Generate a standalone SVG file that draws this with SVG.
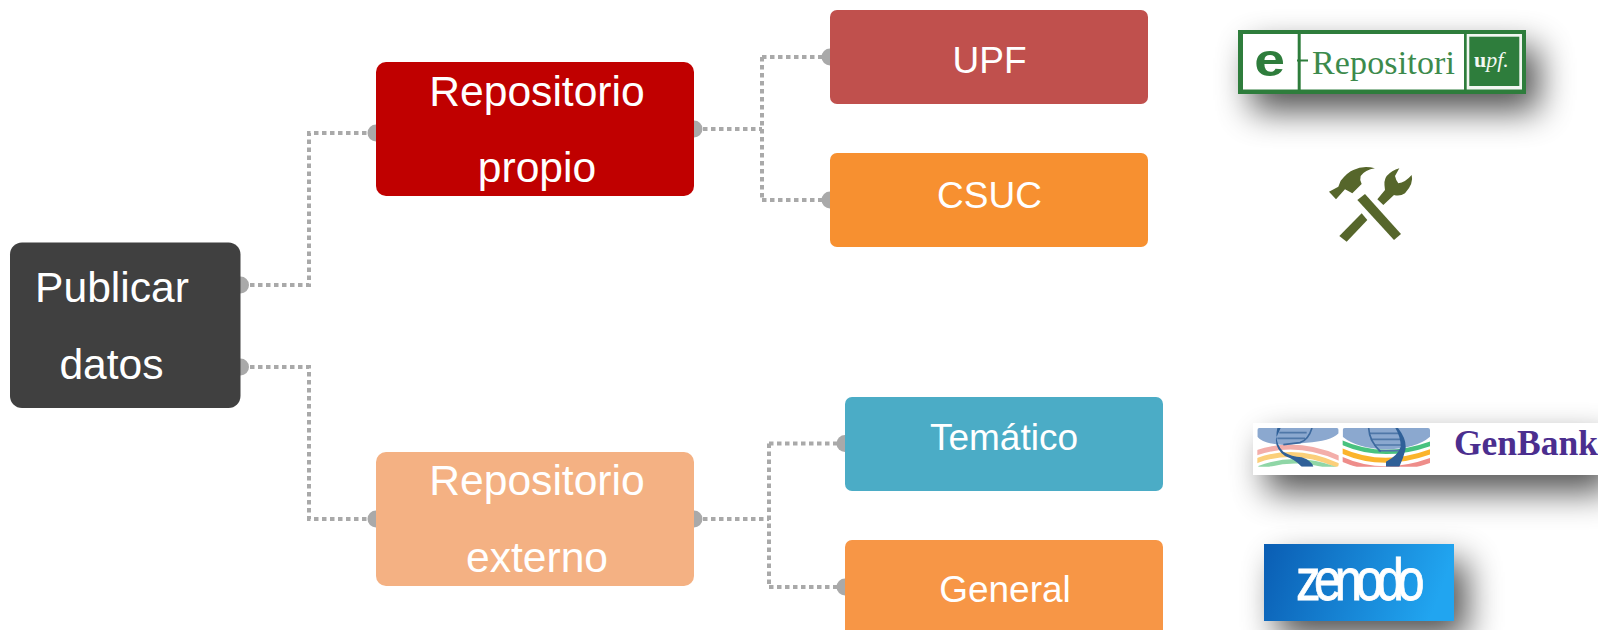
<svg xmlns="http://www.w3.org/2000/svg" width="1598" height="630" viewBox="0 0 1598 630">
<style>
.wire{fill:none;stroke:#a9a9a9;stroke-width:4;stroke-dasharray:4.5 3.5}
.port{fill:#a9a9a9}
.lab{font-family:"Liberation Sans",Arial,sans-serif;fill:#fff;text-anchor:middle}
.big{font-size:42.600px}
.mid{font-size:37px}
.band{fill:none}
</style>
<defs>
<filter id="sh" x="-40%" y="-100%" width="190%" height="400%" color-interpolation-filters="sRGB">
<feGaussianBlur in="SourceAlpha" stdDeviation="17"/>
<feOffset dx="13" dy="17"/>
<feComponentTransfer><feFuncA type="linear" slope="0.68"/></feComponentTransfer>
<feMerge><feMergeNode/><feMergeNode in="SourceGraphic"/></feMerge>
</filter>
<linearGradient id="zg" x1="0" x2="1" y1="0" y2="0.15">
<stop offset="0" stop-color="#0a5db3"/><stop offset="1" stop-color="#21a5f0"/>
</linearGradient>
<clipPath id="gl"><rect x="22" y="24" width="244" height="116" rx="6"/></clipPath>
<clipPath id="gr"><rect x="278" y="24" width="262" height="116" rx="6"/></clipPath>
</defs>
<rect width="1598" height="630" fill="#fff"/>
<g id="connectors">
<path class="wire" d="M250 285H309V133H368"/>
<path class="wire" d="M250 367H309V519H368"/>
<path class="wire" d="M703 129H762M762 57H822M762 57V200M762 200H822"/>
<path class="wire" d="M703 519H769M769 443.500H837M769 443.500V587M769 587H837"/>
<g class="port">
<circle cx="240.500" cy="285" r="8.500"/><circle cx="240.500" cy="367" r="8.500"/>
<circle cx="376" cy="133" r="8.500"/><circle cx="376" cy="519" r="8.500"/>
<circle cx="694" cy="129" r="8.500"/><circle cx="694" cy="519" r="8.500"/>
<circle cx="830" cy="57" r="8.500"/><circle cx="830" cy="200" r="8.500"/>
<circle cx="845" cy="443.500" r="8.500"/><circle cx="845" cy="587" r="8.500"/>
</g>
</g>
<g id="publicar"><rect x="10" y="242.500" width="230.500" height="165.500" rx="12" fill="#404040"/>
<text class="lab big" x="112" y="302">Publicar</text><text class="lab big" x="111.500" y="379">datos</text></g>
<g id="propio"><rect x="376" y="62" width="318" height="134" rx="10" fill="#c00000"/>
<text class="lab big" x="537" y="106">Repositorio</text><text class="lab big" x="537" y="182">propio</text></g>
<g id="externo"><rect x="376" y="452" width="318" height="134" rx="10" fill="#f4b183"/>
<text class="lab big" x="537" y="495">Repositorio</text><text class="lab big" x="537" y="572">externo</text></g>
<g id="upf"><rect x="830" y="10" width="318" height="94" rx="7" fill="#c0504d"/>
<text class="lab mid" x="989.500" y="73">UPF</text></g>
<g id="csuc"><rect x="830" y="153" width="318" height="94" rx="7" fill="#f79030"/>
<text class="lab mid" x="989.500" y="208">CSUC</text></g>
<g id="tematico"><rect x="845" y="397" width="318" height="94" rx="7" fill="#4bacc6"/>
<text class="lab mid" x="1004" y="450">Temático</text></g>
<g id="general"><rect x="845" y="540" width="318" height="100" rx="7" fill="#f79646"/>
<text class="lab mid" x="1005" y="602">General</text></g>
<g id="logo-erepositori">
<rect x="1238" y="30" width="288" height="64" fill="#2e7d3c" filter="url(#sh)"/>
<rect x="1243" y="34" width="54.700" height="55.500" fill="#fff"/>
<rect x="1300.700" y="34" width="163.300" height="55.500" fill="#fff"/>
<rect x="1466.700" y="34" width="55.300" height="55.500" fill="#f2f7f2"/>
<rect x="1469.300" y="36.700" width="50" height="49.300" fill="#2e7d3c"/>
<rect x="1297" y="59.500" width="11" height="2" fill="#2e7d3c"/>
<text transform="translate(1269.500 76) scale(1.2 1)" font-family="'Liberation Sans',Arial,sans-serif" font-size="46" font-weight="bold" fill="#2e7d3c" text-anchor="middle">e</text>
<text x="1312" y="74" font-family="'Liberation Serif','Times New Roman',serif" font-size="34" fill="#3c8a4c" textLength="143">Repositori</text>
<text x="1474" y="67" font-family="'Liberation Serif','Times New Roman',serif" font-size="22" fill="#f2f7f2" font-weight="bold">u<tspan font-style="italic" font-weight="normal">pf.</tspan></text>
</g>
<g id="logo-tools" transform="translate(1320 160) scale(.33333)" fill="#56662b">
<path d="M112 120L135 102L243 222L222 240Z"/>
<path d="M27 95L55 80L62 62Q85 35 100 30Q130 15 165 25Q135 30 122 48Q118 60 125 72L97 100L75 88L48 118Z"/>
<path d="M58 228L125 160L142 180L80 245Z"/>
<path d="M172 118L195 90Q190 60 200 48Q215 32 238 25L225 48Q228 62 235 70Q255 68 275 45Q282 70 255 100Q240 110 222 105L190 135Z"/>
</g>
<g id="logo-genbank">
<rect x="1253" y="423" width="345" height="52" fill="#fff" filter="url(#sh)"/>
<g transform="translate(1250 420) scale(.33333)">
<g clip-path="url(#gl)">
<path d="M22 24H266V40Q240 65 170 68L100 75Q40 72 22 50Z" fill="#8ba8cf"/>
<path class="band" d="M15 100Q140 55 275 118" stroke="#f3aeaa" stroke-width="15"/>
<path class="band" d="M15 124Q140 75 275 142" stroke="#fbcf7a" stroke-width="15"/>
<path class="band" d="M25 145Q140 100 265 150" stroke="#8fd6a6" stroke-width="13"/>
<path d="M88 38H170M82 55H165" stroke="#4f77a8" stroke-width="5" fill="none"/>
<path d="M186 24Q175 60 150 68L100 74" stroke="#3d6a9f" stroke-width="5" fill="none"/>
<path d="M82 24Q72 70 100 95Q125 110 155 112Q185 122 190 140H155Q135 118 105 108Q75 85 78 55L92 24Z" fill="#2f6098"/>
</g>
<g clip-path="url(#gr)">
<path d="M278 24H540V50Q500 85 410 88Q320 85 278 50Z" fill="#8ba8cf"/>
<path class="band" d="M270 65Q400 125 550 68" stroke="#48c27f" stroke-width="13"/>
<path class="band" d="M270 90Q400 150 550 92" stroke="#fbb42c" stroke-width="15"/>
<path class="band" d="M270 115Q400 175 550 118" stroke="#ee8d8a" stroke-width="14"/>
<path d="M360 40H452M362 58H458M372 75H462M385 92H464" stroke="#4f77a8" stroke-width="5" fill="none"/>
<path d="M356 24Q358 65 392 95" stroke="#3d6a9f" stroke-width="5" fill="none"/>
<path d="M436 24H444Q472 60 466 90Q460 115 448 140H408V125Q445 105 452 80Q452 50 436 24Z" fill="#2f6098"/>
</g>
</g>
<text x="1454" y="455" font-family="'Liberation Serif','Times New Roman',serif" font-size="35.500" font-weight="bold" fill="#4b2e8f">GenBank</text>
</g>
<g id="logo-zenodo">
<rect x="1264" y="544" width="190" height="77" fill="url(#zg)" filter="url(#sh)"/>
<text transform="translate(1296 600) scale(.82 1)" font-family="'Liberation Sans',Arial,sans-serif" font-size="60" letter-spacing="-8" fill="#fff" stroke="#fff" stroke-width="0.800">zenodo</text>
</g>
</svg>
